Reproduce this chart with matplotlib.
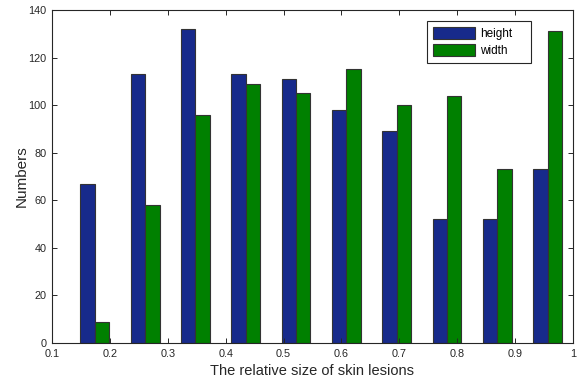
import numpy as np
import matplotlib.pyplot as plt

plt.rcParams['font.family'] = ['Liberation Sans', 'DejaVu Sans']

# bin centres of the relative lesion size
centers = 0.174 + 0.0869 * np.arange(10)
height = [67, 113, 132, 113, 111, 98, 89, 52, 52, 73]
width = [9, 58, 96, 109, 105, 115, 100, 104, 73, 131]
xticks = [0.1, 0.2, 0.3, 0.4, 0.5, 0.6, 0.7, 0.8, 0.9, 1.0]
xticklabels = ['0.1', '0.2', '0.3', '0.4', '0.5', '0.6', '0.7', '0.8', '0.9', '1']
yticks = [0, 20, 40, 60, 80, 100, 120, 140]

fig = plt.figure(figsize=(5.8, 3.84), dpi=100)
ax = fig.add_axes([52/580, 41/384, 521/580, 333/384])

bw = 0.0869 * (2/3.5) / 2
ax.bar(centers - bw/2, height, width=bw, color='#172a8b', edgecolor='#333333',
       linewidth=0.8, label='height')
ax.bar(centers + bw/2, width, width=bw, color='#008000', edgecolor='#333333',
       linewidth=0.8, label='width')

ax.set_xlim(0.1, 1.0)
ax.set_ylim(0, 140)
ax.set_xticks(xticks)
ax.set_xticklabels(xticklabels)
ax.set_yticks(yticks)
ax.tick_params(direction='in', length=3.5, width=0.7, top=True, right=True,
               labelsize=7.8, colors='#262626', pad=4)
for s in ax.spines.values():
    s.set_color('#262626')
    s.set_linewidth(0.8)

ax.set_xlabel('The relative size of skin lesions', fontsize=10.5, color='#262626', labelpad=4)
ax.set_ylabel('Numbers', fontsize=11, color='#262626', labelpad=0)

leg = ax.legend(loc='upper left', bbox_to_anchor=(427/580, 1 - 64/384, 104/580, 43/384),
                bbox_transform=fig.transFigure, mode='expand', borderaxespad=0,
                fontsize=8.5, handlelength=3.6, handleheight=1.2, fancybox=False,
                edgecolor='#262626', framealpha=1, borderpad=0.5,
                labelspacing=0.35, handletextpad=0.4)
leg.get_frame().set_linewidth(0.8)

plt.savefig('out.png', dpi=100)
